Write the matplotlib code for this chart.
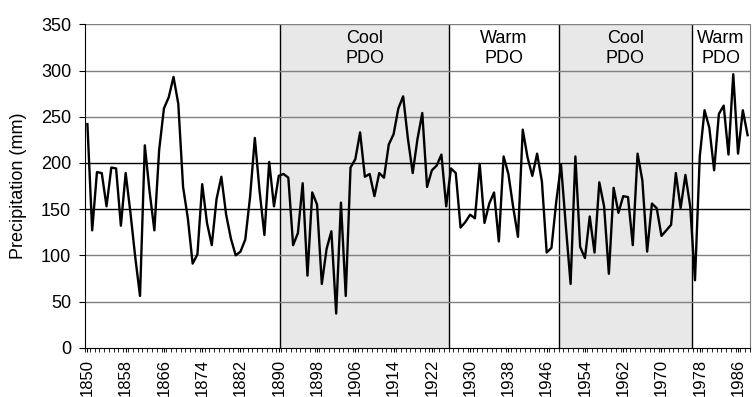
import numpy as np
import matplotlib
matplotlib.use("Agg")
import matplotlib.pyplot as plt

plt.rcParams['font.family'] = ['Liberation Sans', 'DejaVu Sans']

# annual precipitation, 1850-1988
years = np.arange(1850, 1989)
precip = [
    242, 127, 190, 189, 153, 195, 194, 132, 189, 146,   # 1850s
    98, 56, 219, 169, 127, 214, 259, 271, 293, 264,     # 1860s
    174, 140, 91, 101, 177, 135, 111, 161, 185, 144,    # 1870s
    118, 100, 104, 117, 163, 227, 169, 122, 201, 153,   # 1880s
    186, 188, 184, 111, 124, 178, 78, 168, 155, 69,     # 1890s
    107, 126, 37, 157, 56, 195, 204, 233, 185, 188,     # 1900s
    164, 189, 184, 220, 231, 259, 272, 226, 189, 226,   # 1910s
    254, 174, 192, 197, 209, 153, 194, 189, 130, 136,   # 1920s
    144, 140, 199, 135, 156, 168, 115, 207, 188, 152,   # 1930s
    120, 236, 206, 186, 210, 180, 103, 108, 158, 198,   # 1940s
    132, 69, 207, 109, 97, 142, 103, 179, 153, 80,      # 1950s
    173, 146, 164, 163, 111, 210, 181, 104, 156, 151,   # 1960s
    121, 127, 133, 189, 151, 187, 153, 73, 207, 257,    # 1970s
    238, 192, 253, 262, 209, 296, 210, 257, 230,        # 1980s
]

# PDO regimes
regime_edges = [1849.5, 1890.3, 1925.6, 1948.6, 1976.3, 1988.5]
regime_names = [None, "Cool\nPDO", "Warm\nPDO", "Cool\nPDO", "Warm\nPDO"]
regime_cool = [False, True, False, True, False]

fig = plt.figure(figsize=(7.52, 3.97), dpi=100)
ax = fig.add_axes([85/752, 49.3/397, 665/752, 323.4/397])

ax.set_xlim(1849.5, 1988.5)
ax.set_ylim(0, 350)

for i, name in enumerate(regime_names):
    a, b = regime_edges[i], regime_edges[i+1]
    if regime_cool[i]:
        ax.axvspan(a, b, color='#e8e8e8', zorder=0, lw=0)
    if i > 0:
        ax.axvline(a, color='black', lw=1, zorder=1)
    if name:
        ax.text((a + b) / 2, 324, name, ha='center', va='center',
                fontsize=13, linespacing=1.25, zorder=4)

for g in range(50, 351, 50):
    c = 'black' if g in (150, 200) else '#808080'
    ax.axhline(g, color=c, lw=1, zorder=2)

ax.plot(years, precip, color='black', lw=1.7, zorder=3)

ax.set_xticks(years[::8])
ax.set_xticklabels([str(y) for y in years[::8]], rotation=90, fontsize=12)
ax.set_xticks(np.arange(1849.5, 1989, 1), minor=True)
ax.tick_params(axis='x', which='both', length=3, direction='out', pad=5)
ax.set_yticks(range(0, 351, 50))
ax.tick_params(axis='y', length=4, direction='out', labelsize=13, pad=6)

ax.set_ylabel("Precipitation (mm)", fontsize=13, labelpad=10)

ax.spines['top'].set_visible(False)
ax.spines['right'].set_color('#808080')
ax.spines['left'].set_color('black')
ax.spines['bottom'].set_color('black')

fig.savefig("out.png", dpi=100)
